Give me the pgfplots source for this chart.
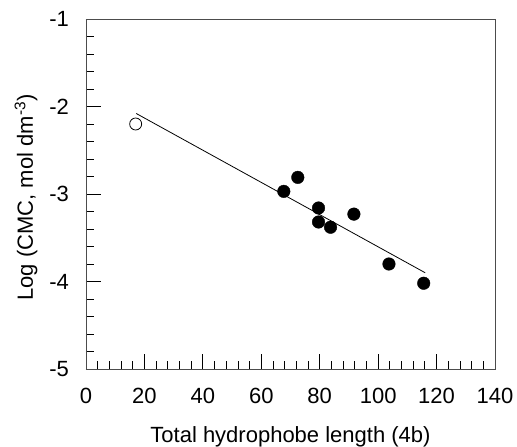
\documentclass[border=0pt]{standalone}
\usepackage{pgfplots}
\pgfplotsset{compat=1.18}
\usepackage{fontspec}
\setmainfont{Liberation Sans}
\begin{document}
\fontsize{22bp}{26bp}\selectfont
\begin{tikzpicture}
\useasboundingbox (-86bp,-78bp) rectangle (431bp,369bp);
\begin{axis}[
  scale only axis,
  width=409bp, height=350bp,
  xmin=0, xmax=140, ymin=-5, ymax=-1,
  xtick={0,20,...,140}, ytick={-5,-4,-3,-2,-1},
  minor x tick num=4, minor y tick num=4,
  tick pos=left,
  tick align=inside,
  major tick length=15bp, minor tick length=8bp,
  every tick/.style={black, line width=0.8pt},
  axis line style={black!70, line width=0.9pt},
  /pgf/number format/assume math mode=true,
  ticklabel style={font=\fontsize{22bp}{26bp}\selectfont},
  xticklabel style={yshift=-12bp},
  yticklabel style={xshift=-9.5bp},
  label style={font=\fontsize{22bp}{26bp}\selectfont},
  xlabel={Total hydrophobe length (4b)},
  ylabel={Log (CMC, mol dm\textsuperscript{-3})},
  xlabel style={at={(axis description cs:0.5,-0.211)}, anchor=base},
  ylabel style={at={(axis description cs:-0.1296,0.49)}, anchor=base},
]
\addplot[black, line width=0.8pt] coordinates {(17.2,-2.08) (116.1,-3.90)};
\addplot[only marks, mark=*, mark size=6bp, mark options={fill=white, draw=black, line width=0.8pt}] coordinates {(17.0,-2.20)};
\addplot[only marks, mark=*, mark size=6.3bp, mark options={fill=black, draw=black}] coordinates {
(67.7,-2.97) (72.5,-2.81) (79.6,-3.16) (79.6,-3.32) (83.7,-3.38) (91.7,-3.23) (103.7,-3.80) (115.6,-4.02)};
\end{axis}
\end{tikzpicture}
\end{document}
